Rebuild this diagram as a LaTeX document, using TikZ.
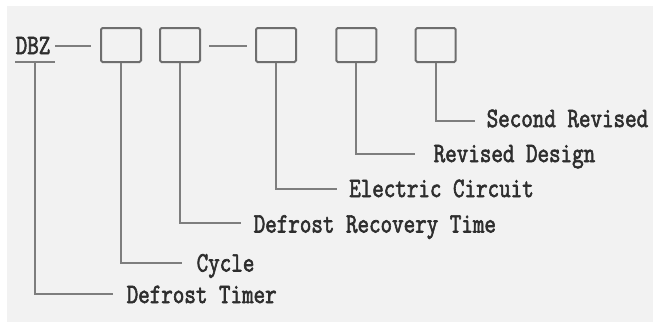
\documentclass[tikz,border=0pt]{standalone}
\usepackage{fontspec}
\newfontfamily\lblfam{Latin Modern Mono}[FakeBold=2.5]
\usepackage{graphicx}
\definecolor{bgc}{HTML}{F2F2F2}
\definecolor{linec}{HTML}{7E7E7E}
\definecolor{boxc}{HTML}{6E6E6E}
\definecolor{txtc}{HTML}{2E2E2E}
\newcommand\lblfont{\lblfam\fontsize{22.4}{24}\selectfont}
\newcommand\tall[1]{\scalebox{1}[1.25]{#1}}
\begin{document}
\begin{tikzpicture}[x=1pt,y=-1pt,
  codebox/.style={draw=boxc, line width=2pt, rounded corners=1.5pt, minimum width=40pt, minimum height=34pt, inner sep=0pt},
  lead/.style={draw=linec, line width=2pt},
  lbl/.style={anchor=base west, inner sep=0pt, text=txtc, font=\lblfont},
]
\useasboundingbox (0,0) rectangle (653,322);
\fill[bgc] (7,6) rectangle (653,322);
% code boxes
\node[codebox] (b1) at (121,45) {};
\node[codebox] (b2) at (180,45) {};
\node[codebox] (b3) at (276,45) {};
\node[codebox] (b4) at (356.3,45) {};
\node[codebox] (b5) at (435.7,45) {};
% DBZ
\node[lbl] (dbz) at (15.5,54) {\tall{DBZ}};
\coordinate (ulL) at (15,62);
\coordinate (ulR) at (55,62);
\coordinate (ulM) at (35,62);
\draw[lead] (ulL) -- (ulR);
\coordinate (d1a) at (55,45.7);
\coordinate (d1b) at (90.5,45.7);
\draw[lead] (d1a) -- (d1b);
\coordinate (d2a) at (209,45.7);
\coordinate (d2b) at (246.5,45.7);
\draw[lead] (d2a) -- (d2b);
% labels
\node[lbl] (tTimer) at (126.5,303) {\tall{Defrost Timer}};
\node[lbl] (tCycle) at (196.5,271.5) {\tall{Cycle}};
\node[lbl] (tDRT) at (253.5,232.5) {\tall{Defrost Recovery Time}};
\node[lbl] (tEC) at (349,197) {\tall{Electric Circuit}};
\node[lbl] (tRD) at (433.5,162) {\tall{Revised Design}};
\node[lbl] (tSR) at (486.5,127) {\tall{Second Revised}};
% line ends
\coordinate (eTimer) at (113,294);
\coordinate (eCycle) at (181.7,262.7);
\coordinate (eDRT) at (240.7,222.7);
\coordinate (eEC) at (337,189);
\coordinate (eRD) at (414.7,154);
\coordinate (eSR) at (475,120.7);
% leaders
\draw[lead] (ulM) |- (eTimer);
\draw[lead] (b1.south) |- (eCycle);
\draw[lead] (b2.south) |- (eDRT);
\draw[lead] (b3.south) |- (eEC);
\draw[lead] (b4.south) |- (eRD);
\draw[lead] (b5.south) |- (eSR);
\end{tikzpicture}
\end{document}
